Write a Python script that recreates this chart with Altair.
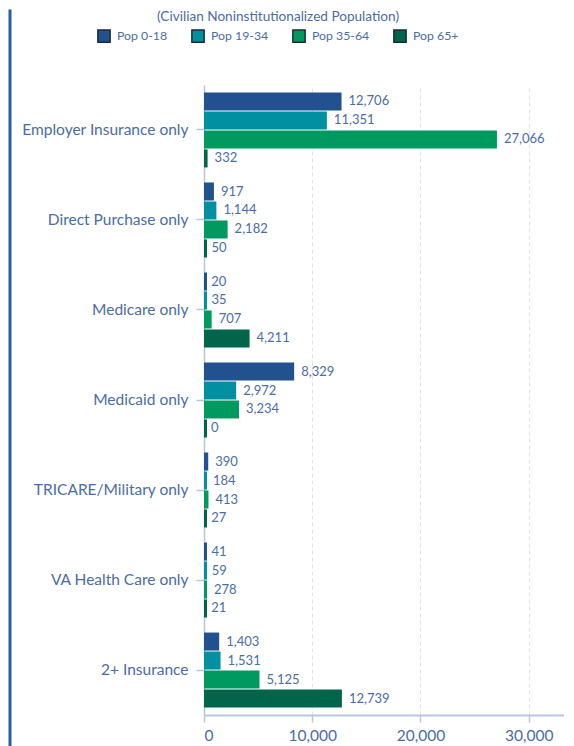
import altair as alt
import pandas as pd

categories = [
    "Employer Insurance only",
    "Direct Purchase only",
    "Medicare only",
    "Medicaid only",
    "TRICARE/Military only",
    "VA Health Care only",
    "2+ Insurance",
]
series = ["Pop 0-18", "Pop 19-34", "Pop 35-64", "Pop 65+"]
pop_0_18 = [12706, 917, 20, 8329, 390, 41, 1403]
pop_19_34 = [11351, 1144, 35, 2972, 184, 59, 1531]
pop_35_64 = [27066, 2182, 707, 3234, 413, 278, 5125]
pop_65_plus = [332, 50, 4211, 0, 27, 21, 12739]
colors = ["#21518F", "#0090A2", "#009A61", "#00654A"]
x_ticks = [0, 10000, 20000, 30000]
legend_title = "(Civilian Noninstitutionalized Population)"

rows = []
for s, vals in zip(series, [pop_0_18, pop_19_34, pop_35_64, pop_65_plus]):
    for c, v in zip(categories, vals):
        rows.append({"category": c, "series": s, "value": v})
df = pd.DataFrame(rows)

TXT = "#4A6DA5"
AX = "#B8C7DD"

y_axis = alt.Axis(
    title=None,
    labelFontSize=15.5,
    labelColor=TXT,
    tickColor=AX,
    tickSize=8,
    tickWidth=1.5,
    domainColor=AX,
    domainWidth=1.5,
    labelPadding=8,
    grid=False,
)
x_axis = alt.Axis(
    title=None,
    values=x_ticks,
    format=",.0f",
    labelFontSize=15.5,
    labelColor=TXT,
    tickColor=AX,
    tickSize=7,
    tickWidth=1.5,
    domainColor=AX,
    domainWidth=2,
    labelPadding=6,
    grid=True,
    gridDash=[4, 3],
    gridColor="#E2E2E2",
)
y_scale = alt.Scale(paddingInner=0.167, paddingOuter=0.083)
yoff = alt.YOffset("series:N", sort=series, scale=alt.Scale(paddingInner=0.05))
x_scale = alt.Scale(domain=[0, 33260], nice=False)

base = alt.Chart(df)

bars = base.transform_calculate(
    barval="max(datum.value, 280)"
).mark_bar().encode(
    y=alt.Y("category:N", sort=categories, scale=y_scale, axis=y_axis),
    yOffset=yoff,
    x=alt.X("barval:Q", scale=x_scale, axis=x_axis),
    color=alt.Color(
        "series:N",
        sort=series,
        scale=alt.Scale(domain=series, range=colors),
        legend=alt.Legend(
            title=legend_title,
            orient="none",
            legendX=-107,
            legendY=-75,
            direction="horizontal",
            titleAnchor="middle",
            titleFontSize=13.6,
            titleFontWeight="normal",
            titleColor=TXT,
            titlePadding=5,
            titleLimit=1000,
            labelFontSize=12.3,
            labelColor=TXT,
            labelOffset=6,
            symbolType="square",
            symbolSize=150,
            symbolStrokeColor="#1C2B3A",
            symbolStrokeWidth=1.5,
            columnPadding=20,
        ),
    ),
)

labels = base.mark_text(align="left", baseline="middle", dx=7, fontSize=13, color=TXT).encode(
    y=alt.Y("category:N", sort=categories, scale=y_scale, axis=y_axis),
    yOffset=yoff,
    x=alt.X("value:Q", scale=x_scale, axis=x_axis),
    text=alt.Text("value:Q", format=","),
)

border = alt.Chart(pd.DataFrame({"a": [0]})).mark_rule(color="#2A5CA8", strokeWidth=3).encode(
    x=alt.value(-194), y=alt.value(-75.5), y2=alt.value(662)
)

chart = (
    alt.layer(bars, labels, border)
    .properties(width=360, height=630, padding=0)
    .configure(font="Lato")
    .configure_view(stroke=None)
)

chart.save("out.html", embed_options={"renderer": "svg", "actions": False})
